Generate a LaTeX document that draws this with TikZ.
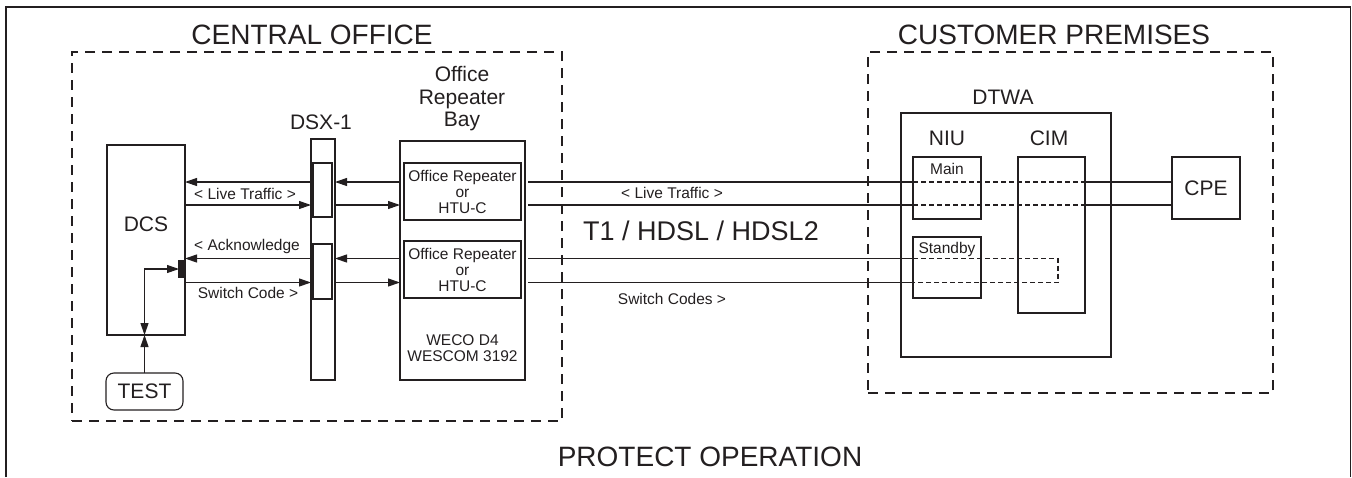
\documentclass[tikz,border=0pt]{standalone}
\usepackage{fontspec}
\setmainfont{Liberation Sans}
\usetikzlibrary{arrows.meta}
\definecolor{ink}{RGB}{35,31,32}
\tikzset{
  box/.style={draw, inner sep=0pt, outer sep=0pt},
  bigtxt/.style={font=\fontsize{28}{30}\selectfont, inner sep=0pt},
  midtxt/.style={font=\fontsize{21}{22.5}\selectfont, inner sep=0pt, align=center},
  smalltxt/.style={font=\fontsize{15.5}{16}\selectfont, inner sep=0pt, align=center},
  regiondash/.style={dash pattern=on 10pt off 7pt},
  innerdash/.style={dash pattern=on 5pt off 3pt},
  >={Triangle[length=12pt,width=8pt]}
}
\begin{document}
\begin{tikzpicture}[x=1pt,y=-1pt,line width=1.1pt,color=ink]
\useasboundingbox (0,0) rectangle (1352,477);
% outer frame
\draw (6,477) -- (6,7) -- (1350.5,7) -- (1350.5,477);
% regions
\node[box, regiondash, minimum width=490pt, minimum height=369pt] (co) at (317,236.5) {};
\node[box, regiondash, minimum width=405pt, minimum height=341pt] (cp) at (1070.5,222.5) {};
\node[bigtxt] (colbl) at (312,35) {CENTRAL OFFICE};
\node[bigtxt] (cplbl) at (1054,35) {CUSTOMER PREMISES};
\node[bigtxt] (protect) at (710,457) {PROTECT OPERATION};

% DCS
\node[box, minimum width=78pt, minimum height=190pt] (dcs) at (146,240) {};
\node[midtxt] (dcslbl) at (146,224) {DCS};
\node[box, fill=ink, minimum width=6.5pt, minimum height=16pt] (blk) at (182.25,269) {};
\node[box, rounded corners=8pt, minimum width=77pt, minimum height=37pt, font=\fontsize{21}{22}\selectfont] (test) at (144.5,391.5) {TEST};

% DSX-1
\node[box, minimum width=24pt, minimum height=241pt] (dsx) at (323,259.5) {};
\node[box, minimum width=19pt, minimum height=54pt] (dsxa) at (322.5,190) {};
\node[box, minimum width=19pt, minimum height=55pt] (dsxb) at (322.5,271.5) {};
\node[midtxt] (dsxlbl) at (321,122) {DSX-1};

% Office repeater bay
\node[box, minimum width=125pt, minimum height=239pt] (orb) at (462.5,260.5) {};
\node[box, minimum width=117pt, minimum height=57pt] (orba) at (462.5,191.5) {};
\node[box, minimum width=117pt, minimum height=57pt] (orbb) at (462.5,269.5) {};
\node[smalltxt] (orbatxt) at (462.5,192) {Office Repeater\\or\\HTU-C};
\node[smalltxt] (orbbtxt) at (462.5,270) {Office Repeater\\or\\HTU-C};
\node[midtxt] (orblbl) at (462,99) {Office\\Repeater\\Bay};
\node[smalltxt] (weco) at (462.5,348) {WECO D4\\WESCOM 3192};

% DTWA
\node[box, minimum width=210pt, minimum height=244pt] (dtwa) at (1006,235) {};
\node[midtxt] (dtwalbl) at (1003,97) {DTWA};
\node[midtxt] (niulbl) at (947,138) {NIU};
\node[midtxt] (cimlbl) at (1049,138) {CIM};
\node[box, minimum width=68pt, minimum height=62pt] (main) at (947,188) {};
\node[box, minimum width=68pt, minimum height=61pt] (stby) at (947,267.5) {};
\node[box, minimum width=67pt, minimum height=156pt] (cim) at (1051.5,235) {};
\node[smalltxt] (mainlbl) at (947,168.5) {Main};
\node[smalltxt] (stbylbl) at (947,249.5) {Standby};
\node[box, minimum width=68pt, minimum height=62pt, font=\fontsize{21}{22}\selectfont] (cpe) at (1206,188) {CPE};

% line levels
\coordinate (ya) at (0,182);
\coordinate (yb) at (0,205);
\coordinate (yc) at (0,258.5);
\coordinate (yd) at (0,282.5);
\coordinate (turn) at (1058,0);
\coordinate (ostart) at (528,0);

% DCS <-> DSX-1
\draw[->] (dsx.west |- ya) -- (dcs.east |- ya);
\draw[->] (dcs.east |- yb) -- (dsx.west |- yb);
\draw[->] (dsx.west |- yc) -- (dcs.east |- yc);
\draw[->] (blk.east |- yd) -- (dsx.west |- yd);
\node[smalltxt] (lt1) at (245,194) {< Live Traffic >};
\node[smalltxt] (ack) at (247,246) {< Acknowledge};
\node[smalltxt] (swc) at (248,293) {Switch Code >};

% DSX-1 <-> ORB
\draw[->] (orb.west |- ya) -- (dsx.east |- ya);
\draw[->] (dsx.east |- yb) -- (orb.west |- yb);
\draw[->] (orb.west |- yc) -- (dsx.east |- yc);
\draw[->] (dsx.east |- yd) -- (orb.west |- yd);

% TEST
\draw[<->] (test.north |- dcs.south) -- (test.north |- blk.west) -- (blk.west);
\draw[->] (test.north) -- (test.north |- dcs.south);

% span lines
\foreach \yy in {ya,yb}{
  \draw (ostart |- \yy) -- (main.west |- \yy);
  \draw[innerdash] (main.west |- \yy) -- (cim.east |- \yy);
  \draw (cim.east |- \yy) -- (cpe.west |- \yy);
}
\draw (ostart |- yc) -- (stby.west |- yc);
\draw (ostart |- yd) -- (stby.west |- yd);
\draw[innerdash] (stby.west |- yc) -- (turn |- yc) -- (turn |- yd) -- (stby.west |- yd);

\node[smalltxt] (lt2) at (672,193) {< Live Traffic >};
\node[font=\fontsize{27}{29}\selectfont, inner sep=0pt] (t1) at (701,231) {T1 / HDSL / HDSL2};
\node[smalltxt] (swcs) at (672,298.5) {Switch Codes >};
\end{tikzpicture}
\end{document}
